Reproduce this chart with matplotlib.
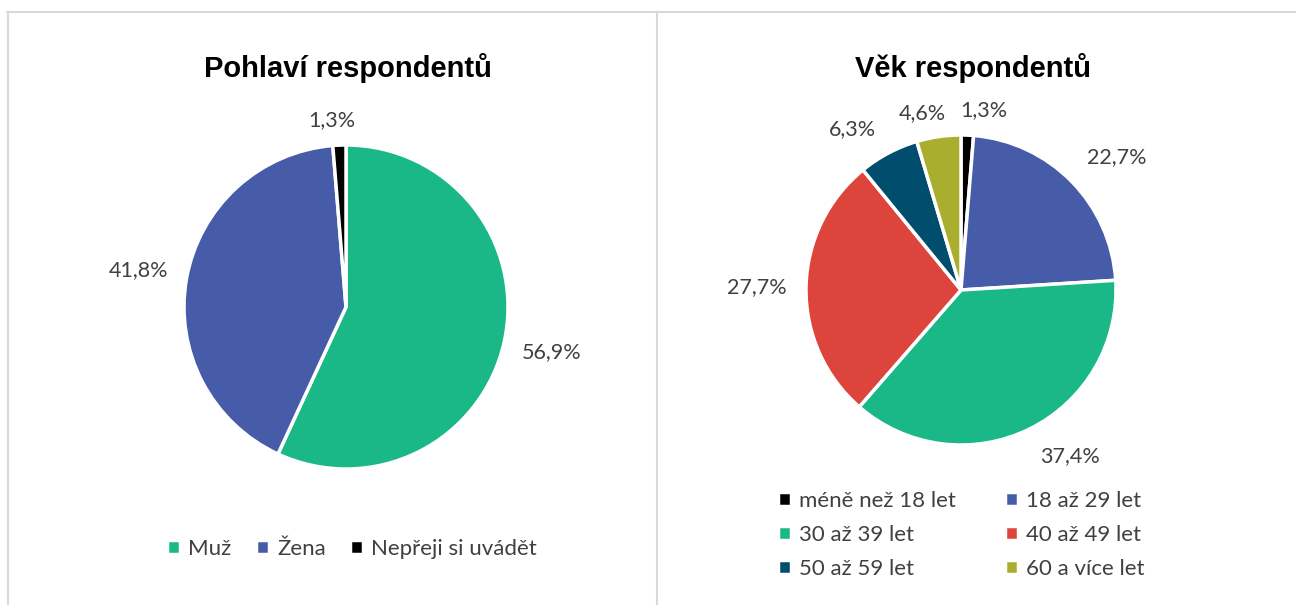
import numpy as np
import matplotlib.pyplot as plt
from matplotlib.lines import Line2D

# data
gender_labels = ["Muž", "Žena", "Nepřeji si uvádět"]
gender_values = [56.9, 41.8, 1.3]
gender_colors = ["#19B886", "#475CA8", "#000000"]

age_labels = ["méně než 18 let", "18 až 29 let", "30 až 39 let",
              "40 až 49 let", "50 až 59 let", "60 a více let"]
age_values = [1.3, 22.7, 37.4, 27.7, 6.3, 4.6]
age_colors = ["#000000", "#475CA8", "#19B886", "#DD443B", "#004D6D", "#A9AE2E"]

W, H = 1296, 605
fig = plt.figure(figsize=(W / 100, H / 100), dpi=100)
fig.patch.set_facecolor("white")

label_font = "Lato"
text_col = "#404040"


def pie_axes(cx, cy, r):
    # square axes in pixel units, radius 1 fills the box
    return fig.add_axes([(cx - r) / W, (H - cy - r) / H, 2 * r / W, 2 * r / H])


def draw_pie(ax, values, colors, dists, nudges):
    wedges, _, autotexts = ax.pie(
        values, colors=colors, startangle=90, counterclock=False, radius=1,
        autopct=lambda p: f"{p:.1f}%".replace(".", ","), pctdistance=1.25,
        wedgeprops=dict(edgecolor="white", linewidth=2.5),
        textprops=dict(fontsize=15.5, color=text_col, family=label_font))
    for w, t, d, n in zip(wedges, autotexts, dists, nudges):
        a = np.deg2rad((w.theta1 + w.theta2) / 2 + n)
        t.set_position((d * np.cos(a), d * np.sin(a)))
        t.set_ha("center")
        t.set_va("center")
    # pie() resets the limits, so set them afterwards
    ax.set_xlim(-1, 1)
    ax.set_ylim(-1, 1)
    ax.axis("off")
    return wedges


# left: gender
ax1 = pie_axes(346, 307, 162)
w1 = draw_pie(ax1, gender_values, gender_colors, [1.3, 1.3, 1.16], [0, 0, 2])
fig.text(348 / W, 1 - 68 / H, "Pohlaví respondentů", ha="center", va="center",
         fontsize=21, fontweight="bold", family="Liberation Sans")
fig.legend(w1, gender_labels, loc="center", bbox_to_anchor=(352 / W, 1 - 549 / H),
           ncol=3, frameon=False, handlelength=0.6, handleheight=0.6,
           handletextpad=0.35, columnspacing=1.1,
           prop=dict(family=label_font, size=16), labelcolor=text_col)

# right: age
ax2 = pie_axes(961, 290, 155)
w2 = draw_pie(ax2, age_values, age_colors,
              [1.17, 1.32, 1.28, 1.32, 1.25, 1.17], [-5, -4, 7, 0, 6, 4])
fig.text(973 / W, 1 - 68 / H, "Věk respondentů", ha="center", va="center",
         fontsize=21, fontweight="bold", family="Liberation Sans")
order = [0, 2, 4, 1, 3, 5]
fig.legend([w2[i] for i in order], [age_labels[i] for i in order], loc="center",
           bbox_to_anchor=(961 / W, 1 - 535 / H), ncol=2, frameon=False,
           handlelength=0.6, handleheight=0.6, handletextpad=0.35,
           columnspacing=2.2, labelspacing=0.62,
           prop=dict(family=label_font, size=16), labelcolor=text_col)

# panel borders
border = "#D9D9D9"
fig.add_artist(Line2D([7 / W, 1], [1 - 11.5 / H] * 2, color=border, lw=1.5))
fig.add_artist(Line2D([7.5 / W] * 2, [0, 1 - 11.5 / H], color=border, lw=1.5))
fig.add_artist(Line2D([657.5 / W] * 2, [0, 1 - 11.5 / H], color=border, lw=1.5))

fig.savefig("out.png", dpi=100, facecolor="white")
